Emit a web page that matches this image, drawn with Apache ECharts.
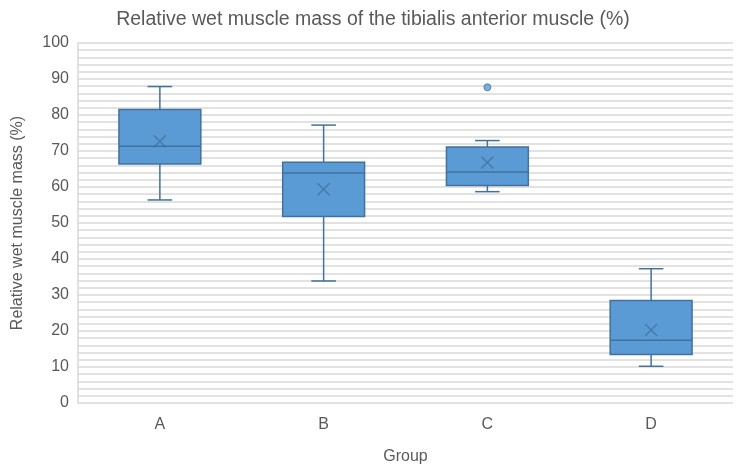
<!DOCTYPE html>
<html>
<head>
<meta charset="utf-8">
<script src="https://cdn.jsdelivr.net/npm/echarts@6/dist/echarts.min.js"></script>
<style>
  html, body { margin: 0; padding: 0; background: #fff; }
  #chart { width: 746px; height: 474px; }
</style>
</head>
<body>
<div id="chart"></div>
<script>
// groups and five-number summaries
const groups = ['A', 'B', 'C', 'D'];
const lowWhisker = [56.4, 33.9, 58.7, 10.2];
const q1 = [66.4, 51.8, 60.4, 13.5];
const median = [71.3, 63.9, 64.2, 17.4];
const q3 = [81.5, 66.9, 71.1, 28.5];
const highWhisker = [87.9, 77.2, 72.9, 37.3];
const means = [72.7, 59.4, 66.8, 20.3];
const outliers = [['C', 87.7]];

const fillColor = '#5b9bd5';
const lineColor = '#41719c';
const textColor = '#595959';

const boxData = groups.map((g, i) => [i, lowWhisker[i], q1[i], median[i], q3[i], highWhisker[i]]);

// draws one box with median and capped whiskers
const renderBox = (params, api) => {
    const idx = api.value(0);
    const band = api.size([1, 0])[0];
    const halfBox = band * 0.25;
    const halfCap = band * 0.075;
    const pMin = api.coord([idx, api.value(1)]);
    const pQ1 = api.coord([idx, api.value(2)]);
    const pMed = api.coord([idx, api.value(3)]);
    const pQ3 = api.coord([idx, api.value(4)]);
    const pMax = api.coord([idx, api.value(5)]);
    const x = pQ1[0];
    const lineStyle = { stroke: lineColor, lineWidth: 1.5 };
    return {
        type: 'group',
        children: [
            { type: 'line', shape: { x1: x, y1: pQ3[1], x2: x, y2: pMax[1] }, style: lineStyle },
            { type: 'line', shape: { x1: x, y1: pQ1[1], x2: x, y2: pMin[1] }, style: lineStyle },
            { type: 'line', shape: { x1: x - halfCap, y1: pMax[1], x2: x + halfCap, y2: pMax[1] }, style: lineStyle },
            { type: 'line', shape: { x1: x - halfCap, y1: pMin[1], x2: x + halfCap, y2: pMin[1] }, style: lineStyle },
            { type: 'rect', shape: { x: x - halfBox, y: pQ3[1], width: halfBox * 2, height: pQ1[1] - pQ3[1] },
              style: { fill: fillColor, stroke: lineColor, lineWidth: 1.5 } },
            { type: 'line', shape: { x1: x - halfBox, y1: pMed[1], x2: x + halfBox, y2: pMed[1] }, style: lineStyle }
        ]
    };
};

const chart = echarts.init(document.getElementById('chart'), null, { renderer: 'canvas' });
chart.setOption({
    animation: false,
    textStyle: { fontFamily: 'Liberation Sans, Arial, sans-serif' },
    title: {
        text: 'Relative wet muscle mass of the tibialis anterior muscle (%)',
        left: 'center',
        top: 5,
        textStyle: { fontSize: 19.5, fontWeight: 'normal', color: textColor }
    },
    grid: { left: 78, right: 13, top: 43, bottom: 71 },
    xAxis: {
        type: 'category',
        data: groups,
        name: 'Group',
        nameLocation: 'middle',
        nameGap: 46,
        nameTextStyle: { fontSize: 16, color: textColor },
        axisLine: { show: false },
        axisTick: { show: false },
        axisLabel: { fontSize: 16, color: textColor, margin: 14 },
        splitLine: { show: false }
    },
    yAxis: {
        type: 'value',
        min: 0,
        max: 100,
        interval: 10,
        name: 'Relative wet muscle mass (%)',
        nameLocation: 'middle',
        nameGap: 52,
        nameTextStyle: { fontSize: 16, color: textColor },
        axisLine: { show: true, lineStyle: { color: '#d9d9d9', width: 1.5 } },
        axisTick: { show: false },
        axisLabel: { fontSize: 16, color: textColor, margin: 9 },
        splitLine: { lineStyle: { color: '#d9d9d9', width: 1.5 } },
        minorTick: { show: false, splitNumber: 5 },
        minorSplitLine: { show: true, lineStyle: { color: '#d9d9d9', width: 1.5 } }
    },
    series: [
        {
            type: 'custom',
            renderItem: renderBox,
            encode: { x: 0, y: [1, 2, 3, 4, 5] },
            data: boxData,
            z: 3
        },
        {
            type: 'scatter',
            symbol: 'path://M0,0L10,10M10,0L0,10',
            symbolSize: 12,
            itemStyle: { color: 'none', borderColor: lineColor, borderWidth: 1.5 },
            data: groups.map((g, i) => [g, means[i]]),
            z: 4
        },
        {
            type: 'scatter',
            symbol: 'circle',
            symbolSize: 7,
            itemStyle: { color: fillColor, borderColor: lineColor, borderWidth: 1 },
            data: outliers,
            z: 4
        }
    ]
});
</script>
</body>
</html>
